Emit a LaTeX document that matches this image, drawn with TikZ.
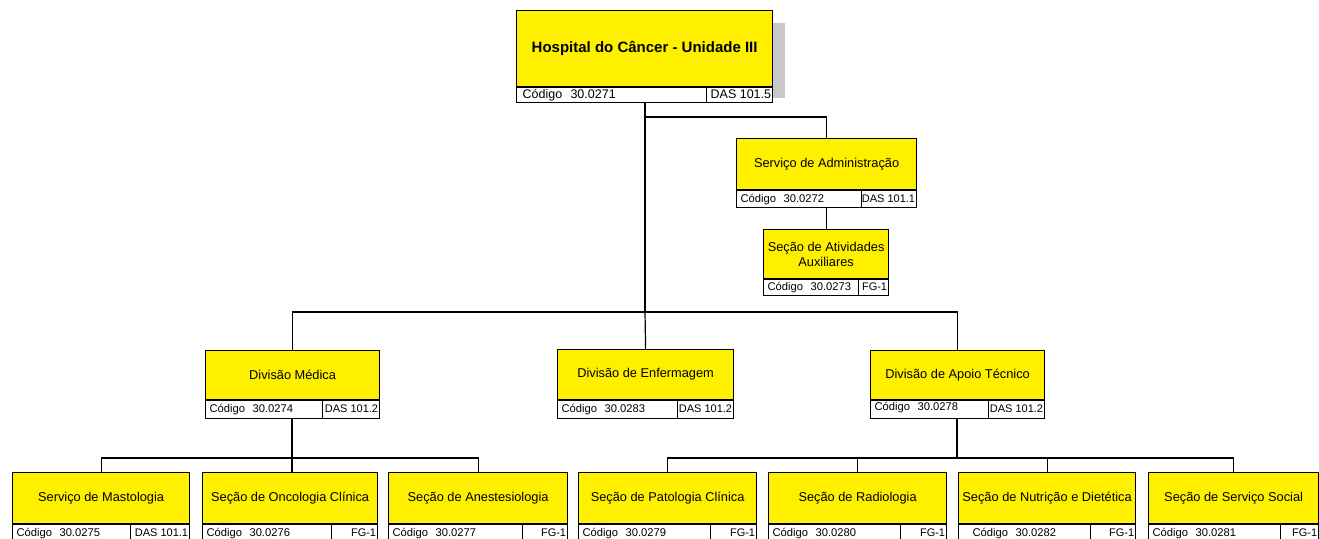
\documentclass[tikz,border=0pt]{standalone}
\usepackage{fontspec}
\setmainfont{Liberation Sans}
\definecolor{orgyellow}{RGB}{255,240,0}
\definecolor{shadowgray}{RGB}{200,200,200}
\def\chh{18}
\tikzset{
  titlebox/.style={draw=black, line width=1.2pt, fill=orgyellow, align=center, inner sep=1pt,
    font=\fontsize{12.8}{15}\selectfont},
  codebox/.style={draw=black, line width=1.2pt, fill=white, align=left, inner xsep=4pt, inner ysep=0pt,
    text height=8.5pt, text depth=2.5pt,
    minimum height=\chh pt, font=\fontsize{11.2}{13}\selectfont},
  gradebox/.style={draw=black, line width=1.2pt, fill=white, inner xsep=1.5pt, inner ysep=0pt,
    text height=8.5pt, text depth=2.5pt,
    minimum height=\chh pt, font=\fontsize{11}{13}\selectfont},
  link/.style={draw=black, line width=1.2pt}
}
% #1 name, #2 x, #3 y(top), #4 width, #5 title height, #6 code width, #7 title, #8 code, #9 grade
\newcommand\orgbox[9]{%
  \pgfmathsetmacro\obcw{#6-8}%
  \pgfmathsetmacro\obgt{#4-#6-3}%
  \node[titlebox, minimum width=#4pt, minimum height=#5pt, anchor=north west] (#1) at (#2,#3) {#7};
  \node[codebox, text width=\obcw pt, anchor=north west] (#1c) at (#1.south west) {#8};
  \node[gradebox, anchor=north east] (#1g) at (#1.south east) {\makebox[\obgt pt][r]{#9}};
}
\begin{document}
\begin{tikzpicture}[x=1pt, y=-1pt]
\useasboundingbox (0,0) rectangle (1319,538);
% shadow of top box
\fill[shadowgray] (530,23) rectangle (785,98);
% top box
\def\chh{15}
\begin{scope}[titlebox/.append style={font=\fontsize{15}{18}\selectfont\bfseries},
              codebox/.append style={font=\fontsize{12.5}{14}\selectfont, inner xsep=6pt, text height=9pt, text depth=2.7pt},
              gradebox/.append style={font=\fontsize{12.5}{14}\selectfont, text height=9pt, text depth=2.7pt}]
\orgbox{hosp}{516}{10}{256}{76}{190}{Hospital do Câncer - Unidade III}{Código~~30.0271}{DAS 101.5}
\end{scope}
\def\chh{17}
\orgbox{adm}{736}{138}{180}{51}{125}{Serviço de Administração}{Código~~30.0272}{DAS 101.1}
\def\chh{16}
\orgbox{aux}{763}{229}{125}{49}{95}{Seção de Atividades\\Auxiliares}{Código~~30.0273}{FG-1}
\def\chh{18}
\orgbox{med}{205}{350}{174}{49}{117}{Divisão Médica}{Código~~30.0274}{DAS 101.2}
\orgbox{enf}{557}{349}{176}{50}{120}{Divisão de Enfermagem}{Código~~30.0283}{DAS 101.2}
\orgbox{apo}{870}{350}{174}{49}{118}{Divisão de Apoio Técnico}{\raisebox{2.5pt}{Código~~30.0278}}{DAS 101.2}
% bottom row
\orgbox{mas}{12}{472}{177}{51}{118}{Serviço de Mastologia}{Código~~30.0275}{DAS 101.1}
\orgbox{onc}{202}{472}{175}{51}{129}{Seção de Oncologia Clínica}{Código~~30.0276}{FG-1}
\orgbox{ane}{388}{472}{179}{51}{134}{Seção de Anestesiologia}{Código~~30.0277}{FG-1}
\orgbox{pat}{578}{472}{178}{51}{132}{Seção de Patologia Clínica}{Código~~30.0279}{FG-1}
\orgbox{rad}{768}{472}{178}{51}{132}{Seção de Radiologia}{Código~~30.0280}{FG-1}
\orgbox{nut}{958}{472}{177}{51}{132}{Seção de Nutrição e Dietética}{\hspace*{10pt}Código~~30.0282}{FG-1}
\orgbox{soc}{1148}{472}{170}{51}{132}{Seção de Serviço Social}{Código~~30.0281}{FG-1}
% junctions
\coordinate (j1) at (645,117);
\coordinate (j2) at (645,312);
\coordinate (j3) at (292,458);
\coordinate (j4) at (957,458);
% connectors
\draw[link] (j2 |- hospc.south) -- (j2);
\draw[link] (j1) -| (adm.north);
\draw[link] (aux.north |- admc.south) -- (aux.north);
\draw[link] (med.north) |- (j2) -| (apo.north);
\draw[link] (j2) -- (enf.north);
\draw[link] (j3 |- medc.south) -- (j3);
\draw[link] (mas.north) |- (j3) -| (ane.north);
\draw[link] (j3) -- (j3 |- onc.north);
\draw[link] (j4 |- apoc.south) -- (j4);
\draw[link] (pat.north) |- (j4) -| (soc.north);
\draw[link] (rad.north) |- (j4) -| (nut.north);
\end{tikzpicture}
\end{document}
